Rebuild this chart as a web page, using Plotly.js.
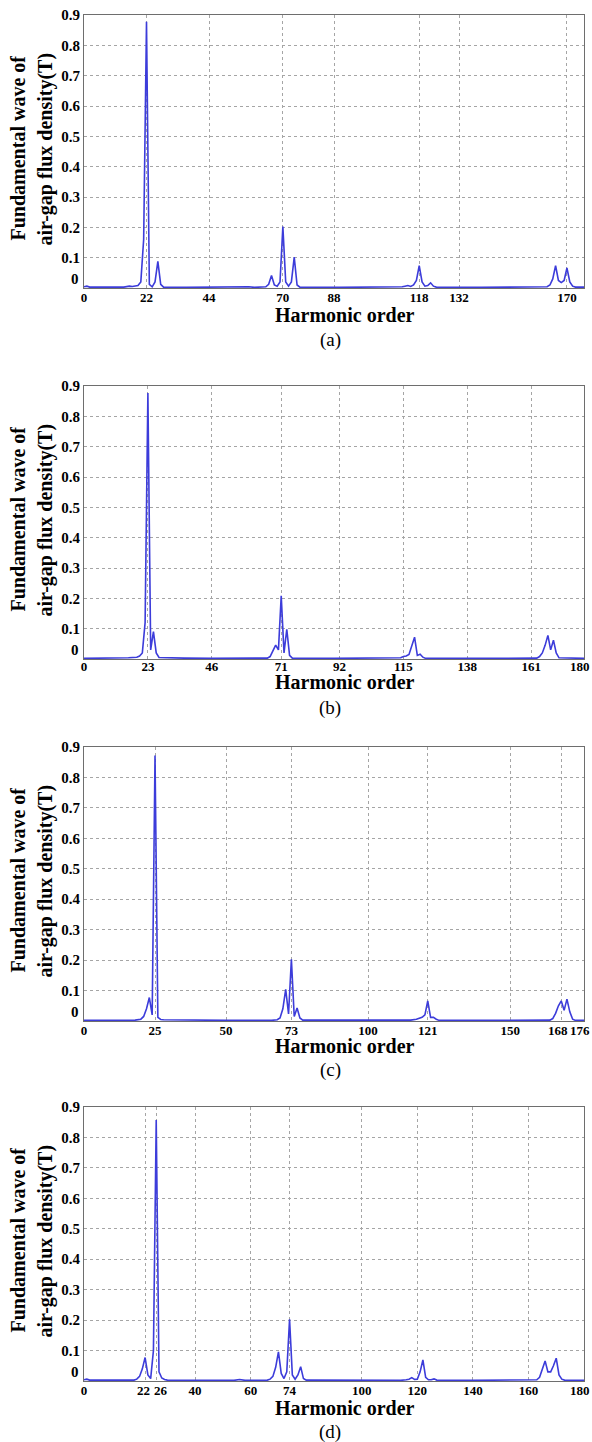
<!DOCTYPE html>
<html>
<head>
<meta charset="utf-8">
<script src="https://cdn.plot.ly/plotly-3.0.1.min.js"></script>
<style>
html,body{margin:0;padding:0;background:#fff;}
#chart{width:592px;height:1442px;}
</style>
</head>
<body>
<div id="chart"></div>
<script>
// ---------- DATA ----------
const panelLabels = ["(a)", "(b)", "(c)", "(d)"];
const xTitle = "Harmonic order";
const yTitleLine1 = "Fundamental wave of";
const yTitleLine2 = "air-gap flux density(T)";
const yTickVals = [0.1, 0.2, 0.3, 0.4, 0.5, 0.6, 0.7, 0.8, 0.9];
const yTickText = ["0.1", "0.2", "0.3", "0.4", "0.5", "0.6", "0.7", "0.8", "0.9"];
const yZeroLabel = "0";

// (a)
const ticksA = [0, 22, 44, 70, 88, 118, 132, 170];
const rangeA = [0, 176];
const harmonicsA = [0,1,2,8,14,16,17,19,20,21,22,23,24,25,26,27,28,36,44,56,58,60,64,65,66,67,68,69,70,71,72,73,74,75,76,90,100,110,112,113,114,115,116,117,118,119,120,121,122,123,124,140,150,160,163,164,165,166,167,168,169,170,171,172,173,176];
const fluxA = [0.004,0.006,0.003,0.002,0.003,0.006,0.005,0.008,0.02,0.16,0.878,0.012,0.004,0.02,0.088,0.012,0.003,0.002,0.003,0.002,0.004,0.002,0.004,0.012,0.041,0.01,0.006,0.02,0.203,0.02,0.006,0.02,0.102,0.01,0.003,0.002,0.002,0.003,0.004,0.006,0.008,0.005,0.01,0.025,0.074,0.02,0.006,0.008,0.017,0.006,0.003,0.002,0.003,0.002,0.004,0.01,0.03,0.074,0.025,0.018,0.025,0.066,0.02,0.006,0.003,0.003];

// (b)
const ticksB = [0, 23, 46, 71, 92, 115, 138, 161, 180];
const rangeB = [0, 180];
const harmonicsB = [0,10,16,19,20,21,22,23,24,25,26,27,30,36,46,60,66,67,68,69,70,71,72,73,74,75,90,110,114,115,116,117,118,119,120,121,122,123,140,160,163,164,165,166,167,168,169,170,171,180];
const fluxB = [0.002,0.002,0.004,0.006,0.01,0.02,0.12,0.877,0.03,0.09,0.02,0.005,0.004,0.003,0.002,0.002,0.003,0.008,0.025,0.046,0.03,0.208,0.02,0.098,0.012,0.003,0.002,0.002,0.004,0.008,0.01,0.015,0.04,0.072,0.012,0.016,0.006,0.002,0.002,0.002,0.003,0.008,0.02,0.045,0.078,0.03,0.062,0.02,0.004,0.002];

// (c)
const ticksC = [0, 25, 50, 73, 100, 121, 150, 168, 176];
const rangeC = [0, 176];
const harmonicsC = [0,10,18,20,21,22,23,24,25,26,27,28,36,50,66,68,69,70,71,72,73,74,75,76,77,100,115,117,118,119,120,121,122,123,124,125,150,164,165,166,167,168,169,170,171,172,173,176];
const fluxC = [0.002,0.002,0.003,0.006,0.015,0.04,0.077,0.02,0.872,0.012,0.005,0.004,0.003,0.002,0.002,0.004,0.01,0.04,0.104,0.023,0.203,0.015,0.043,0.01,0.003,0.002,0.003,0.006,0.008,0.012,0.02,0.066,0.012,0.012,0.006,0.002,0.002,0.003,0.008,0.025,0.05,0.066,0.035,0.072,0.03,0.006,0.002,0.002];

// (d)
const ticksD = [0, 22, 26, 40, 60, 74, 100, 120, 140, 160, 180];
const rangeD = [0, 180];
const harmonicsD = [0,1,2,10,18,19,20,21,22,23,24,25,26,27,28,29,30,40,54,56,58,66,67,68,69,70,71,72,73,74,75,76,77,78,79,80,100,104,106,114,116,117,118,119,120,121,122,123,124,125,126,127,140,160,163,164,165,166,167,168,169,170,171,172,173,180];
const fluxD = [0.004,0.006,0.003,0.002,0.003,0.006,0.015,0.04,0.077,0.02,0.008,0.1,0.857,0.03,0.01,0.005,0.003,0.002,0.002,0.005,0.002,0.003,0.006,0.015,0.045,0.096,0.025,0.008,0.03,0.203,0.02,0.006,0.02,0.047,0.008,0.003,0.002,0.004,0.003,0.002,0.004,0.006,0.011,0.005,0.006,0.03,0.069,0.012,0.004,0.004,0.007,0.003,0.002,0.002,0.004,0.012,0.04,0.066,0.03,0.03,0.05,0.075,0.02,0.006,0.003,0.002];

// ---------- LAYOUT ----------
const W = 592, H = 1442;
const serif = "Liberation Serif";
const lineColor = "rgb(60,60,218)";
// plot-area boxes in pixels: [left, right, top, bottom]
const boxes = [
  [84, 584, 15, 288],
  [84, 584, 386, 659],
  [84, 584, 747, 1021],
  [84, 584, 1107, 1381]
];
// y positions (px) of x-title and caption for each panel, and x-tick label offsets
const xTitleY = [315, 682, 1046, 1408];
const captionY = [340, 708, 1070, 1432];
const tickStandoff = [-3, -5, -3, -3];
// tick labels that the reference draws nudged sideways (panel index -> {value: px shift})
const labelNudge = [{}, {}, {168: -3}, {22: -2, 26: 5}];

const panels = [
  {x: harmonicsA, y: fluxA, ticks: ticksA, range: rangeA},
  {x: harmonicsB, y: fluxB, ticks: ticksB, range: rangeB},
  {x: harmonicsC, y: fluxC, ticks: ticksC, range: rangeC},
  {x: harmonicsD, y: fluxD, ticks: ticksD, range: rangeD}
];

const px2x = p => p / W;
const px2y = p => 1 - p / H;
const tickFont = {family: serif, size: 13, color: "#000", weight: "bold"};
const yTickFont = {family: serif, size: 15, color: "#000", weight: "bold"};

const traces = [];
const layout = {
  width: W, height: H,
  margin: {l: 0, r: 0, t: 0, b: 0},
  paper_bgcolor: "#ffffff",
  plot_bgcolor: "#ffffff",
  showlegend: false,
  font: {family: serif, color: "#000"},
  annotations: []
};

panels.forEach((p, i) => {
  const n = i === 0 ? "" : String(i + 1);
  const b = boxes[i];
  const last = p.ticks[p.ticks.length - 1];
  const lastAtEdge = last === p.range[1];
  const nudge = labelNudge[i];
  const labelY = b[3] + 12 + tickStandoff[i];
  const toPx = v => b[0] + (v - p.range[0]) / (p.range[1] - p.range[0]) * (b[1] - b[0]);
  traces.push({
    type: "scatter", mode: "lines",
    x: p.x, y: p.y,
    xaxis: "x" + n, yaxis: "y" + n,
    line: {color: lineColor, width: 1.6},
    hoverinfo: "x+y"
  });
  layout["xaxis" + n] = {
    domain: [px2x(b[0]), px2x(b[1])],
    anchor: "y" + n,
    range: p.range,
    tickmode: "array",
    tickvals: p.ticks,
    ticktext: p.ticks.map((t, k) => ((lastAtEdge && k === p.ticks.length - 1) || (t in nudge)) ? "" : String(t)),
    ticks: "",
    tickangle: 0,
    ticklabelstandoff: tickStandoff[i],
    showgrid: true,
    gridcolor: "rgb(165,165,165)",
    griddash: "dot",
    gridwidth: 1,
    zeroline: false,
    showline: true,
    linecolor: "rgb(110,110,110)",
    linewidth: 1,
    mirror: true,
    tickfont: tickFont,
    fixedrange: true
  };
  layout["yaxis" + n] = {
    domain: [px2y(b[3]), px2y(b[2])],
    anchor: "x" + n,
    range: [0, 0.9],
    tickmode: "array",
    tickvals: yTickVals,
    ticktext: yTickText,
    ticks: "",
    showgrid: true,
    gridcolor: "rgb(165,165,165)",
    griddash: "dot",
    gridwidth: 1,
    zeroline: false,
    showline: true,
    linecolor: "rgb(110,110,110)",
    linewidth: 1,
    mirror: true,
    tickfont: yTickFont,
    fixedrange: true
  };
  // nudged x labels
  Object.keys(nudge).forEach(v => {
    layout.annotations.push({
      xref: "paper", yref: "paper",
      x: px2x(toPx(Number(v)) + nudge[v]), y: px2y(labelY),
      xanchor: "center", yanchor: "middle",
      text: String(v), showarrow: false,
      font: tickFont
    });
  });
  // last x label at the right edge, pulled inside the page like the reference
  if (lastAtEdge) {
    layout.annotations.push({
      xref: "paper", yref: "paper",
      x: px2x(592), y: px2y(labelY),
      xanchor: "right", yanchor: "middle",
      text: String(last), showarrow: false,
      font: tickFont
    });
  }
  // "0" y label (drawn slightly above the baseline as in the reference)
  layout.annotations.push({
    xref: "paper", yref: "y" + n,
    x: px2x(b[0] - 3), y: 0.031,
    xanchor: "right", yanchor: "middle",
    text: yZeroLabel, showarrow: false,
    font: yTickFont
  });
  // y title, two lines
  layout.annotations.push({
    xref: "paper", yref: "paper",
    x: px2x(17), y: px2y(b[2] + 228),
    xanchor: "center", yanchor: "bottom",
    textangle: -90,
    text: yTitleLine1, showarrow: false,
    font: {family: serif, size: 20, color: "#000", weight: "bold"}
  });
  layout.annotations.push({
    xref: "paper", yref: "paper",
    x: px2x(45), y: px2y(b[2] + 233),
    xanchor: "center", yanchor: "bottom",
    textangle: -90,
    text: yTitleLine2, showarrow: false,
    font: {family: serif, size: 20, color: "#000", weight: "bold"}
  });
  // x title
  layout.annotations.push({
    xref: "paper", yref: "paper",
    x: px2x(345), y: px2y(xTitleY[i]),
    xanchor: "center", yanchor: "middle",
    text: xTitle, showarrow: false,
    font: {family: serif, size: 20, color: "#000", weight: "bold"}
  });
  // caption
  layout.annotations.push({
    xref: "paper", yref: "paper",
    x: px2x(330), y: px2y(captionY[i]),
    xanchor: "center", yanchor: "middle",
    text: panelLabels[i], showarrow: false,
    font: {family: serif, size: 19, color: "#000"}
  });
});

Plotly.newPlot("chart", traces, layout, {staticPlot: true, displayModeBar: false});
</script>
</body>
</html>
